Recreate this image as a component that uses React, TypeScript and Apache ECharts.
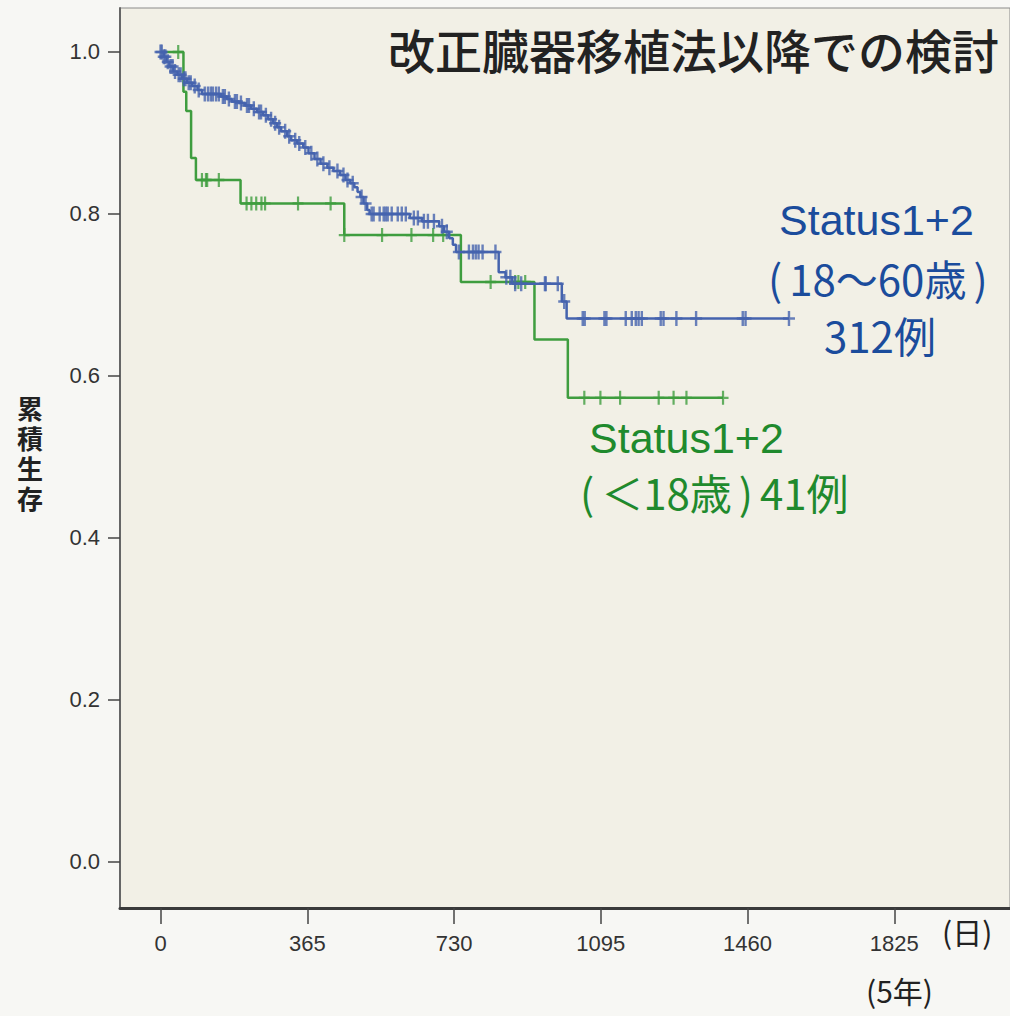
import React, { useEffect, useRef } from "react";
import * as echarts from "echarts";

// ---- data ----
const xTicks = [0, 365, 730, 1095, 1460, 1825];
const yTicks = [0, 0.2, 0.4, 0.6, 0.8, 1.0];
const yAxisNameChars = ["累", "積", "生", "存"];

// Kaplan-Meier steps [day, survival after event] — Status1+2 (18〜60歳) 312例
const blueSteps: [number, number][] = [
  [0, 1.0], [8, 0.994], [15, 0.988], [22, 0.982], [32, 0.976], [42, 0.972],
  [54, 0.967], [66, 0.962], [79, 0.958], [92, 0.953], [103, 0.948], [150, 0.945],
  [165, 0.942], [177, 0.939], [195, 0.937], [210, 0.934], [225, 0.93], [240, 0.926],
  [255, 0.922], [268, 0.917], [280, 0.912], [290, 0.907], [300, 0.902], [315, 0.896],
  [325, 0.891], [340, 0.887], [355, 0.882], [368, 0.875], [383, 0.868], [398, 0.862],
  [415, 0.857], [430, 0.853], [447, 0.848], [460, 0.842], [472, 0.838], [482, 0.833],
  [490, 0.827], [497, 0.821], [505, 0.813], [514, 0.805], [520, 0.8], [620, 0.795],
  [650, 0.791], [693, 0.785], [705, 0.778], [718, 0.77], [727, 0.762], [735, 0.753],
  [841, 0.728], [858, 0.722], [875, 0.714], [998, 0.692], [1010, 0.671],
];
const blueCensors: number[] = [
  0, 3, 8, 12, 18, 25, 30, 36, 45, 50, 58, 62, 70, 75, 85, 95, 110, 118, 125, 130,
  138, 145, 155, 160, 170, 185, 190, 200, 215, 220, 232, 245, 250, 262, 275, 285,
  295, 310, 320, 335, 345, 360, 375, 390, 405, 420, 440, 455, 465, 478, 500, 510,
  525, 530, 545, 555, 560, 565, 575, 590, 600, 610, 630, 640, 655, 665, 680, 700,
  712, 742, 767, 777, 784, 791, 801, 833, 860, 870, 882, 897, 956, 958, 988, 1004,
  1050, 1055, 1104, 1109, 1157, 1172, 1182, 1189, 1197, 1244, 1251, 1283, 1332,
  1448, 1455, 1563,
];

// Status1+2 (<18歳) 41例
const greenSteps: [number, number][] = [
  [0, 1.0], [57, 0.951], [64, 0.927], [76, 0.869], [88, 0.842], [199, 0.813],
  [457, 0.774], [747, 0.716], [930, 0.645], [1013, 0.573],
];
const greenCensors: number[] = [
  44, 103, 113, 116, 145, 214, 226, 238, 251, 260, 342, 423, 457, 551, 624, 678,
  703, 821, 882, 890, 907, 1054, 1094, 1143, 1239, 1276, 1308, 1399,
];

const BLUE_LINE = "#4563ae";
const BLUE_TEXT = "#1b4c9c";
const GREEN_LINE = "#3f9d3f";
const GREEN_TEXT = "#1f8a2d";

const survAt = (steps: [number, number][], t: number) => {
  let s = steps[0][1];
  for (const [d, v] of steps) if (d <= t) s = v;
  return s;
};

const curve = (steps: [number, number][], censors: number[]) => {
  const last = censors[censors.length - 1];
  return [...steps.map((p) => [p[0], p[1]]), [last, survAt(steps, last)]];
};

const PLUS = "path://M4,0H6V5H10V7H6V12H4V7H0V5H4Z";

export default function App() {
  const ref = useRef<HTMLDivElement>(null);
  useEffect(() => {
    if (!ref.current) return;
    const chart = echarts.init(ref.current, null, { renderer: "svg" });
    const cjk = "'Noto Sans CJK JP', 'Noto Sans', sans-serif";
    const latin = "'Liberation Sans', Arial, sans-serif";
    const paren = { fontSize: 42, fontFamily: cjk, padding: [0, 7, 0, 7] };
    chart.setOption({
      animation: false,
      backgroundColor: "#f7f7f4",
      grid: {
        left: 120,
        top: 8,
        right: -10,
        bottom: 108,
        show: true,
        backgroundColor: "#f2f0e6",
        borderColor: "#8a8a8a",
        borderWidth: 1,
      },
      xAxis: {
        type: "value",
        min: -100.8,
        max: 2112.7,
        splitLine: { show: false },
        axisLine: { show: true, onZero: false, lineStyle: { color: "#3a3a3a", width: 3 } },
        axisTick: {
          show: true,
          customValues: xTicks,
          length: 16,
          lineStyle: { color: "#444", width: 1.5 },
        },
        axisLabel: {
          customValues: xTicks,
          margin: 24,
          fontSize: 22,
          color: "#333",
          fontFamily: latin,
          formatter: (v: number) => String(v),
        },
      },
      yAxis: {
        type: "value",
        min: -0.0568,
        max: 1.0543,
        splitLine: { show: false },
        axisLine: { show: true, onZero: false, lineStyle: { color: "#666", width: 2 } },
        axisTick: {
          show: true,
          customValues: yTicks,
          length: 12,
          lineStyle: { color: "#444", width: 1.5 },
        },
        axisLabel: {
          customValues: yTicks,
          margin: 20,
          fontSize: 22,
          color: "#333",
          fontFamily: latin,
          formatter: (v: number) => v.toFixed(1),
        },
      },
      series: [
        {
          type: "line",
          step: "end",
          data: curve(greenSteps, greenCensors),
          showSymbol: false,
          lineStyle: { color: GREEN_LINE, width: 2.5 },
          z: 2,
        },
        {
          type: "scatter",
          data: greenCensors.map((d) => [d, survAt(greenSteps, d)]),
          symbol: PLUS,
          symbolSize: [11, 14],
          itemStyle: { color: GREEN_LINE },
          z: 3,
        },
        {
          type: "line",
          step: "end",
          data: curve(blueSteps, blueCensors),
          showSymbol: false,
          lineStyle: { color: BLUE_LINE, width: 2.5 },
          z: 4,
        },
        {
          type: "scatter",
          data: blueCensors.map((d) => [d, survAt(blueSteps, d)]),
          symbol: PLUS,
          symbolSize: [12, 15],
          itemStyle: { color: BLUE_LINE },
          z: 5,
        },
      ],
      graphic: [
        {
          type: "text",
          left: 388,
          top: 25,
          style: { text: "改正臓器移植法以降での検討", font: `500 47px ${cjk}`, fill: "#222" },
        },
        ...yAxisNameChars.map((c, i) => ({
          type: "text",
          left: 17,
          top: 393 + i * 30,
          style: { text: c, font: `bold 26px ${cjk}`, lineHeight: 29, fill: "#222" },
        })),
        {
          type: "text",
          left: 942,
          top: 916,
          style: { text: "(日)", font: `30px ${cjk}`, fill: "#222" },
        },
        {
          type: "text",
          left: 866,
          top: 975,
          style: { text: "(5年)", font: `30px ${cjk}`, fill: "#222" },
        },
        {
          type: "text",
          left: 779,
          top: 198,
          style: { text: "Status1+2", font: `43px ${latin}`, fill: BLUE_TEXT },
        },
        {
          type: "text",
          left: 768,
          top: 256,
          style: {
            text: "{p|(}18〜60歳{p|)}",
            font: `42px ${cjk}`,
            fill: BLUE_TEXT,
            rich: { p: { ...paren, fill: BLUE_TEXT } },
          },
        },
        {
          type: "text",
          left: 824,
          top: 313,
          style: { text: "312例", font: `42px ${cjk}`, fill: BLUE_TEXT },
        },
        {
          type: "text",
          left: 589,
          top: 416,
          style: { text: "Status1+2", font: `43px ${latin}`, fill: GREEN_TEXT },
        },
        {
          type: "text",
          left: 580,
          top: 470,
          style: {
            text: "{p|(}＜18歳{p|)}41例",
            font: `42px ${cjk}`,
            fill: GREEN_TEXT,
            rich: { p: { ...paren, fill: GREEN_TEXT } },
          },
        },
      ],
    });
    return () => chart.dispose();
  }, []);
  return (
    <div
      ref={ref}
      style={{ position: "absolute", left: 0, top: 0, width: 1010, height: 1016 }}
    />
  );
}
